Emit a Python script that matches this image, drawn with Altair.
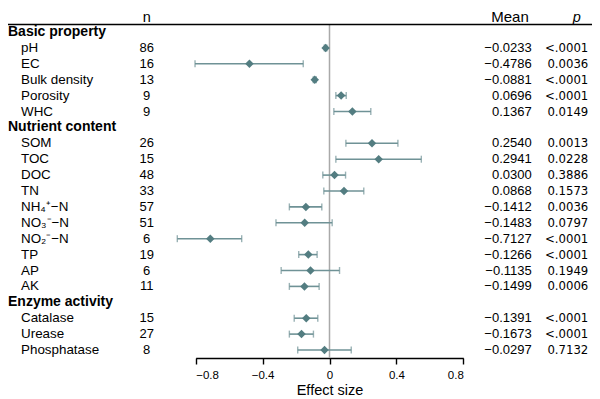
import altair as alt
import pandas as pd

# ---- data ----
groups = ["Basic property", "Nutrient content", "Enzyme activity"]
group_counts = [5, 10, 3]
variables = ["pH", "EC", "Bulk density", "Porosity", "WHC",
             "SOM", "TOC", "DOC", "TN", "NH\u2084\u207a\u2212N", "NO\u2083\u207b\u2212N",
             "NO\u2082\u207b\u2212N", "TP", "AP", "AK",
             "Catalase", "Urease", "Phosphatase"]
n_values = [86, 16, 13, 9, 9, 26, 15, 48, 33, 57, 51, 6, 19, 6, 11, 15, 27, 8]
means = [-0.0233, -0.4786, -0.0881, 0.0696, 0.1367,
         0.2540, 0.2941, 0.0300, 0.0868, -0.1412, -0.1483, -0.7127, -0.1266, -0.1135, -0.1499,
         -0.1391, -0.1673, -0.0297]
ci_low = [-0.031, -0.804, -0.097, 0.038, 0.026,
          0.098, 0.038, -0.040, -0.034, -0.240, -0.320, -0.910, -0.184, -0.289, -0.240,
          -0.211, -0.240, -0.190]
ci_high = [-0.016, -0.157, -0.079, 0.100, 0.247,
           0.409, 0.549, 0.096, 0.205, -0.046, 0.016, -0.525, -0.074, 0.060, -0.062,
           -0.070, -0.096, 0.130]
p_values = ["<.0001", "0.0036", "<.0001", "<.0001", "0.0149",
            "0.0013", "0.0228", "0.3886", "0.1573", "0.0036", "0.0797", "<.0001", "<.0001",
            "0.1949", "0.0006",
            "<.0001", "<.0001", "0.7132"]
x_ticks = [-0.8, -0.4, 0, 0.4, 0.8]
column_heads = ["n", "Mean", "p"]

# ---- build tables ----
header_rows = []
item_rows = []
row = 0
vi = 0
for g, cnt in zip(groups, group_counts):
    header_rows.append({"label": g, "row": row})
    row += 1
    for _ in range(cnt):
        item_rows.append({
            "label": variables[vi], "row": row, "n": str(n_values[vi]),
            "mean": means[vi], "lo": ci_low[vi], "hi": ci_high[vi],
            "mean_txt": f"{means[vi]:.4f}".replace("-", "\u2212"),
            "p": p_values[vi],
        })
        row += 1
        vi += 1
n_rows = row
hdf = pd.DataFrame(header_rows)
idf = pd.DataFrame(item_rows)

W, H = 584, 350
TEAL = "#537d81"
LINE = "#6f9296"
FONT = "Liberation Sans"
HEAD_BASE = 13.5
RULE_Y = 16.5

x_scale = alt.Scale(domain=[-0.8, 0.8], range=[187.7, 455.3])
x_axis = alt.Axis(values=x_ticks, labelExpr="datum.value == 0 ? '0' : format(datum.value, '.1f')",
                  title="Effect size", grid=False, domainColor="black", domainWidth=1.4,
                  tickColor="black", tickWidth=1.4, tickSize=6, labelFontSize=11.5,
                  labelColor="black", labelPadding=5, titleFontSize=14.5, titleFontWeight="normal",
                  titleColor="black", titlePadding=3, labelFont=FONT, titleFont=FONT)
y_scale = alt.Scale(domain=[0, n_rows - 1], range=[24, 342])
y_enc = alt.Y("row:Q", scale=y_scale, axis=None)

base = alt.Chart(idf)

zero_line = alt.Chart(pd.DataFrame({"x": [0]})).mark_rule(color="#a9a9a9", strokeWidth=1.5).encode(
    x=alt.X("x:Q", scale=x_scale, axis=x_axis), y=alt.value(RULE_Y), y2=alt.value(H))

top_line = alt.Chart(pd.DataFrame({"x": [0]})).mark_rule(color="black", strokeWidth=1.6).encode(
    x=alt.value(0), x2=alt.value(W), y=alt.value(RULE_Y))

bars = base.mark_rule(color=LINE, strokeWidth=1.6).encode(
    x=alt.X("lo:Q", scale=x_scale, axis=x_axis), x2="hi:Q", y=y_enc)
cap_lo = base.mark_tick(color=LINE, orient="vertical", size=7, thickness=1.4).encode(
    x=alt.X("lo:Q", scale=x_scale, axis=x_axis), y=y_enc)
cap_hi = base.mark_tick(color=LINE, orient="vertical", size=7, thickness=1.4).encode(
    x=alt.X("hi:Q", scale=x_scale, axis=x_axis), y=y_enc)
points = base.mark_point(shape="diamond", filled=True, size=72, color=TEAL, opacity=1).encode(
    x=alt.X("mean:Q", scale=x_scale, axis=x_axis), y=y_enc)

group_txt = alt.Chart(hdf).mark_text(align="left", baseline="middle", font=FONT, fontSize=14,
                                     fontWeight="bold", color="black").encode(
    x=alt.value(0), y=y_enc, text="label:N")
item_txt = base.mark_text(align="left", baseline="middle", font=FONT, fontSize=13.4,
                          color="black").encode(x=alt.value(13), y=y_enc, text="label:N")
n_txt = base.mark_text(align="center", baseline="middle", font=FONT, fontSize=13,
                       color="black").encode(x=alt.value(138.7), y=y_enc, text="n:N")
mean_txt = base.mark_text(align="right", baseline="middle", font=FONT, fontSize=13,
                          color="black").encode(x=alt.value(523.7), y=y_enc, text="mean_txt:N")
p_txt = base.mark_text(align="right", baseline="middle",
                       font="Liberation Sans Narrow, DejaVu Sans Condensed, Liberation Sans",
                       fontSize=13, color="black").encode(x=alt.value(580.3), y=y_enc, text="p:N")

head_n = alt.Chart(pd.DataFrame({"t": [column_heads[0]]})).mark_text(
    align="center", baseline="alphabetic", font=FONT, fontSize=14.5, color="black").encode(
    x=alt.value(138.7), y=alt.value(HEAD_BASE), text="t:N")
head_mean = alt.Chart(pd.DataFrame({"t": [column_heads[1]]})).mark_text(
    align="center", baseline="alphabetic", font=FONT, fontSize=15, color="black").encode(
    x=alt.value(502), y=alt.value(HEAD_BASE), text="t:N")
head_p = alt.Chart(pd.DataFrame({"t": [column_heads[2]]})).mark_text(
    align="center", baseline="alphabetic", font=FONT, fontSize=14.5, fontStyle="italic", color="black").encode(
    x=alt.value(568.7), y=alt.value(HEAD_BASE), text="t:N")

chart = alt.layer(
    zero_line, top_line, bars, cap_lo, cap_hi, points,
    group_txt, item_txt, n_txt, mean_txt, p_txt, head_n, head_mean, head_p
).properties(
    width=W, height=H,
    autosize=alt.AutoSizeParams(type="none"),
    padding={"left": 0, "top": 0, "right": 0, "bottom": 41},
).configure_view(stroke=None)

chart.save("out.html", embed_options={"renderer": "svg", "actions": False})
